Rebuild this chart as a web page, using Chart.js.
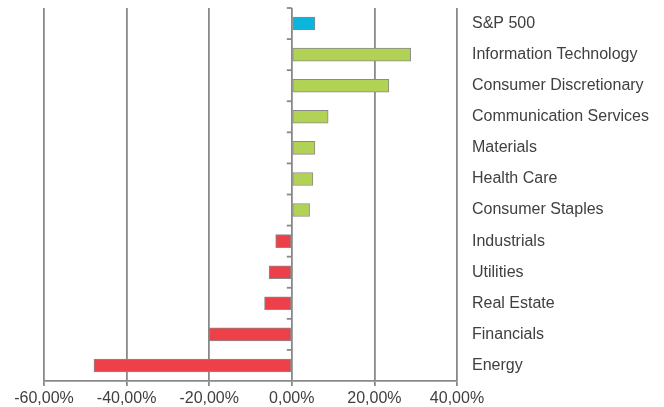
<!DOCTYPE html>
<html>
<head>
<meta charset="utf-8">
<script src="https://cdn.jsdelivr.net/npm/chart.js@4"></script>
<style>
  html, body { margin: 0; padding: 0; background: #fff; }
</style>
</head>
<body>
<canvas id="sector-chart" width="664" height="407"></canvas>
<script>
// sector returns, top to bottom as drawn
const sectors = [
  "S&P 500", "Information Technology", "Consumer Discretionary", "Communication Services",
  "Materials", "Health Care", "Consumer Staples", "Industrials",
  "Utilities", "Real Estate", "Financials", "Energy"
];
const returns = [5.6, 28.8, 23.5, 8.8, 5.6, 5.1, 4.3, -3.9, -5.5, -6.6, -20.0, -47.9];
const xTicks = [-60, -40, -20, 0, 20, 40];

const BLUE = "#0bb5de";
const GREEN = "#b2d255";
const RED = "#ee4048";
const GRID = "#898989";

const barColors = returns.map((v, i) => (i === 0 ? BLUE : v >= 0 ? GREEN : RED));

// little tick marks on the zero line between categories
const zeroTicks = {
  id: "zeroTicks",
  afterDatasetsDraw(chart) {
    const { ctx, scales: { x, y } } = chart;
    const x0 = x.getPixelForValue(0);
    const step = y.getPixelForValue(1) - y.getPixelForValue(0);
    ctx.save();
    ctx.strokeStyle = GRID;
    ctx.lineWidth = 1.8;
    for (let i = 0; i < sectors.length; i++) {
      const yb = y.getPixelForValue(i) - step / 2;
      ctx.beginPath();
      ctx.moveTo(x0 - 5, yb);
      ctx.lineTo(x0, yb);
      ctx.stroke();
    }
    ctx.restore();
  }
};

Chart.defaults.font.family = "'Liberation Sans', Arial, sans-serif";
Chart.defaults.font.size = 16;
Chart.defaults.color = "#404040";

new Chart(document.getElementById("sector-chart").getContext("2d"), {
  type: "bar",
  data: {
    labels: sectors,
    datasets: [{
      data: returns,
      backgroundColor: barColors,
      borderColor: "#8a8a8a",
      borderWidth: 1,
      borderSkipped: false,
      barThickness: 13
    }]
  },
  options: {
    indexAxis: "y",
    responsive: false,
    animation: false,
    layout: { padding: { left: 44, top: 8, right: 0, bottom: 0 } },
    plugins: { legend: { display: false }, tooltip: { enabled: false } },
    scales: {
      x: {
        min: -60,
        max: 40,
        afterBuildTicks(scale) {
          scale.ticks = xTicks.map(v => ({ value: v }));
        },
        afterFit(scale) {
          scale.height = 26;
          scale.paddingLeft = 0;
          scale.paddingRight = 0;
        },
        grid: { color: GRID, lineWidth: 1.8, drawTicks: true, tickLength: 5, tickColor: GRID },
        border: { display: true, color: GRID, width: 1.8 },
        ticks: {
          padding: 3,
          callback: v => v.toFixed(2).replace(".", ",") + "%"
        }
      },
      y: {
        position: "right",
        afterFit(scale) {
          scale.width = 207;
          scale.paddingTop = 0;
          scale.paddingBottom = 0;
        },
        grid: { display: false, drawTicks: false },
        border: { display: false },
        ticks: { padding: 15, crossAlign: "near" }
      }
    }
  },
  plugins: [zeroTicks]
});
</script>
</body>
</html>
